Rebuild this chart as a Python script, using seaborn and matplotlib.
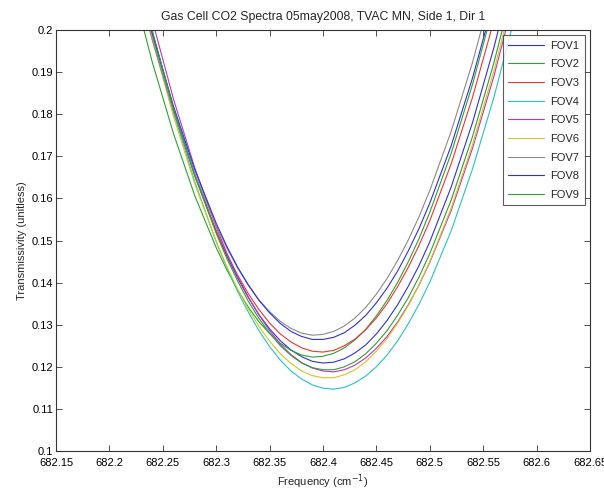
import matplotlib
matplotlib.use("Agg")
import matplotlib.pyplot as plt
import seaborn as sns
import pandas as pd

# Frequency grid (cm^-1)
freq = [682.22, 682.24, 682.26, 682.28, 682.30, 682.31, 682.32, 682.33, 682.34, 682.35,
        682.36, 682.37, 682.38, 682.39, 682.40, 682.41, 682.42, 682.43, 682.44, 682.45,
        682.46, 682.47, 682.48, 682.49, 682.50, 682.52, 682.54, 682.56, 682.58]

fov1 = [0.2203, 0.1996, 0.1814, 0.1656, 0.1521, 0.1463, 0.1411, 0.1365, 0.1324, 0.1290,
        0.1262, 0.1240, 0.1224, 0.1213, 0.1209, 0.1211, 0.1219, 0.1233, 0.1252, 0.1278,
        0.1310, 0.1348, 0.1392, 0.1441, 0.1497, 0.1627, 0.1780, 0.1958, 0.2160]
fov2 = [0.2121, 0.1925, 0.1754, 0.1606, 0.1483, 0.1430, 0.1383, 0.1342, 0.1307, 0.1279,
        0.1256, 0.1239, 0.1228, 0.1223, 0.1225, 0.1232, 0.1245, 0.1264, 0.1289, 0.1321,
        0.1358, 0.1401, 0.1450, 0.1505, 0.1567, 0.1707, 0.1871, 0.2060, 0.2272]
fov3 = [0.2186, 0.1984, 0.1806, 0.1653, 0.1523, 0.1467, 0.1418, 0.1374, 0.1336, 0.1304,
        0.1278, 0.1259, 0.1245, 0.1237, 0.1235, 0.1239, 0.1250, 0.1266, 0.1288, 0.1316,
        0.1350, 0.1391, 0.1437, 0.1489, 0.1547, 0.1682, 0.1840, 0.2022, 0.2229]
fov4 = [0.2207, 0.1994, 0.1804, 0.1639, 0.1497, 0.1435, 0.1379, 0.1330, 0.1286, 0.1248,
        0.1216, 0.1190, 0.1171, 0.1157, 0.1149, 0.1147, 0.1151, 0.1162, 0.1178, 0.1200,
        0.1228, 0.1262, 0.1303, 0.1349, 0.1401, 0.1523, 0.1670, 0.1840, 0.2035]
fov5 = [0.2237, 0.2025, 0.1836, 0.1672, 0.1532, 0.1470, 0.1415, 0.1366, 0.1323, 0.1286,
        0.1254, 0.1229, 0.1210, 0.1197, 0.1190, 0.1188, 0.1193, 0.1204, 0.1221, 0.1244,
        0.1272, 0.1307, 0.1348, 0.1395, 0.1448, 0.1571, 0.1719, 0.1890, 0.2086]
fov6 = [0.2189, 0.1980, 0.1795, 0.1634, 0.1498, 0.1438, 0.1385, 0.1337, 0.1296, 0.1261,
        0.1231, 0.1208, 0.1190, 0.1179, 0.1174, 0.1174, 0.1181, 0.1193, 0.1212, 0.1237,
        0.1267, 0.1304, 0.1346, 0.1395, 0.1450, 0.1577, 0.1728, 0.1903, 0.2102]
fov7 = [0.2173, 0.1977, 0.1806, 0.1658, 0.1535, 0.1482, 0.1435, 0.1394, 0.1359, 0.1331,
        0.1308, 0.1291, 0.1280, 0.1275, 0.1277, 0.1284, 0.1297, 0.1316, 0.1341, 0.1373,
        0.1410, 0.1453, 0.1502, 0.1557, 0.1619, 0.1759, 0.1923, 0.2112, 0.2324]
fov8 = [0.2193, 0.1994, 0.1819, 0.1668, 0.1541, 0.1486, 0.1437, 0.1395, 0.1358, 0.1328,
        0.1303, 0.1284, 0.1272, 0.1265, 0.1265, 0.1270, 0.1281, 0.1299, 0.1322, 0.1352,
        0.1387, 0.1428, 0.1476, 0.1529, 0.1589, 0.1725, 0.1886, 0.2071, 0.2280]
fov9 = [0.2208, 0.2000, 0.1814, 0.1653, 0.1517, 0.1457, 0.1404, 0.1356, 0.1315, 0.1280,
        0.1250, 0.1227, 0.1209, 0.1198, 0.1193, 0.1193, 0.1200, 0.1212, 0.1231, 0.1256,
        0.1286, 0.1323, 0.1365, 0.1414, 0.1469, 0.1596, 0.1747, 0.1922, 0.2121]

labels = ["FOV1", "FOV2", "FOV3", "FOV4", "FOV5", "FOV6", "FOV7", "FOV8", "FOV9"]
series = [fov1, fov2, fov3, fov4, fov5, fov6, fov7, fov8, fov9]
colors = ["#3030e0", "#30a030", "#ee3535", "#25c5c5", "#c035c0", "#d5c525",
          "#8a8a8a", "#3030e0", "#30a030"]

xticks = [682.15, 682.2, 682.25, 682.3, 682.35, 682.4, 682.45, 682.5, 682.55, 682.6, 682.65]
xticklabels = ["682.15", "682.2", "682.25", "682.3", "682.35", "682.4", "682.45",
               "682.5", "682.55", "682.6", "682.65"]
yticks = [0.1, 0.11, 0.12, 0.13, 0.14, 0.15, 0.16, 0.17, 0.18, 0.19, 0.2]
yticklabels = ["0.1", "0.11", "0.12", "0.13", "0.14", "0.15", "0.16", "0.17", "0.18", "0.19", "0.2"]

rows = []
for lab, vals in zip(labels, series):
    for f, v in zip(freq, vals):
        rows.append({"freq": f, "val": v, "FOV": lab})
df = pd.DataFrame(rows)

sns.set_theme(style="white")
plt.rcParams["font.family"] = ["Liberation Sans", "DejaVu Sans"]

fig = plt.figure(figsize=(6.04, 4.90), dpi=100)
ax = fig.add_axes([56 / 604, 1 - 451 / 490, (590 - 56) / 604, (451 - 30) / 490])

sns.lineplot(data=df, x="freq", y="val", hue="FOV", hue_order=labels,
             palette=dict(zip(labels, colors)), estimator=None, sort=False,
             linewidth=0.8, ax=ax)

ax.set_xlim(682.15, 682.65)
ax.set_ylim(0.1, 0.2)
ax.set_xticks(xticks)
ax.set_xticklabels(xticklabels)
ax.set_yticks(yticks)
ax.set_yticklabels(yticklabels)
ax.tick_params(direction="in", length=4, width=0.6, color="#333333",
               labelsize=8, top=True, right=True, bottom=True, left=True,
               pad=2, labelcolor="black")
ax.tick_params(axis="x", pad=5)
for s in ax.spines.values():
    s.set_color("#333333")
    s.set_linewidth(0.8)
    s.set_visible(True)

ax.set_xlabel("Frequency (cm$^{-1}$)", fontsize=8, labelpad=3)
ax.set_ylabel("Transmissivity (unitless)", fontsize=8, labelpad=3)
ax.set_title("Gas Cell CO2 Spectra 05may2008, TVAC MN, Side 1, Dir 1", fontsize=8.8, pad=7)

leg = ax.legend(loc="upper right", fontsize=8, frameon=True, fancybox=False,
                edgecolor="#333333", handlelength=3.2, labelspacing=0.78,
                borderaxespad=0.45, borderpad=0.5, handletextpad=0.6)
leg.get_frame().set_linewidth(0.8)
leg.set_title(None)

fig.savefig("out.png", dpi=100, facecolor="white")
